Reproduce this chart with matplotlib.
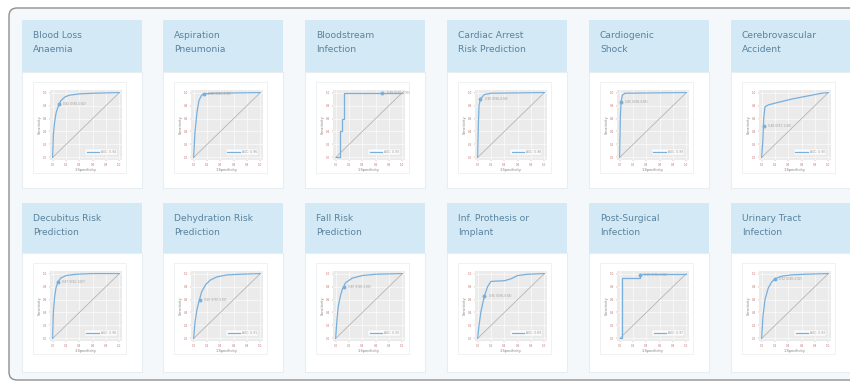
import matplotlib
matplotlib.use("Agg")
import matplotlib.pyplot as plt
from matplotlib.patches import Rectangle, FancyBboxPatch

# card titles (two lines each)
titles = [
    "Blood Loss\nAnaemia", "Aspiration\nPneumonia", "Bloodstream\nInfection",
    "Cardiac Arrest\nRisk Prediction", "Cardiogenic\nShock", "Cerebrovascular\nAccident",
    "Decubitus Risk\nPrediction", "Dehydration Risk\nPrediction", "Fall Risk\nPrediction",
    "Inf. Prothesis or\nImplant", "Post-Surgical\nInfection", "Urinary Tract\nInfection",
]

# ROC curves (1-specificity, sensitivity)
fpr = [
    [0, 0.01, 0.03, 0.05, 0.08, 0.12, 0.18, 0.25, 0.4, 0.6, 1],
    [0, 0.02, 0.05, 0.08, 0.12, 0.15, 0.3, 1],
    [0, 0.07, 0.07, 0.1, 0.1, 0.13, 0.13, 1],
    [0, 0.01, 0.02, 0.04, 0.1, 0.2, 1],
    [0, 0.01, 0.02, 0.04, 0.08, 1],
    [0, 0.02, 0.03, 0.05, 0.1, 0.25, 0.45, 0.7, 0.9, 1],
    [0, 0.01, 0.03, 0.05, 0.08, 0.12, 0.2, 0.35, 0.6, 1],
    [0, 0.02, 0.05, 0.08, 0.12, 0.18, 0.25, 0.35, 0.5, 0.7, 1],
    [0, 0.02, 0.04, 0.07, 0.1, 0.15, 0.25, 0.4, 0.6, 1],
    [0, 0.02, 0.05, 0.1, 0.15, 0.2, 0.4, 0.5, 0.6, 0.75, 1],
    [0, 0.03, 0.03, 0.3, 0.3, 1],
    [0, 0.02, 0.05, 0.1, 0.15, 0.2, 0.3, 0.45, 0.65, 1],
]
tpr = [
    [0, 0.35, 0.55, 0.68, 0.78, 0.87, 0.93, 0.96, 0.98, 0.99, 1],
    [0, 0.4, 0.7, 0.88, 0.96, 0.98, 0.99, 1],
    [0, 0, 0.4, 0.4, 0.6, 0.6, 1, 1],
    [0, 0.5, 0.8, 0.9, 0.97, 0.99, 1],
    [0, 0.6, 0.85, 0.96, 0.99, 1],
    [0, 0.3, 0.6, 0.78, 0.81, 0.85, 0.9, 0.95, 0.99, 1],
    [0, 0.4, 0.65, 0.78, 0.87, 0.93, 0.97, 0.99, 1, 1],
    [0, 0.25, 0.45, 0.57, 0.72, 0.83, 0.9, 0.95, 0.98, 0.99, 1],
    [0, 0.3, 0.5, 0.65, 0.76, 0.86, 0.93, 0.97, 0.99, 1],
    [0, 0.2, 0.42, 0.65, 0.8, 0.88, 0.89, 0.92, 0.97, 0.99, 1],
    [0, 0, 0.93, 0.93, 1, 1],
    [0, 0.35, 0.6, 0.78, 0.87, 0.92, 0.96, 0.98, 0.99, 1],
]
# best cut-off point marked on each curve
cut_x = [0.1, 0.15, 0.7, 0.04, 0.02, 0.03, 0.08, 0.1, 0.12, 0.1, 0.3, 0.2]
cut_y = [0.82, 0.98, 0.99, 0.9, 0.85, 0.48, 0.87, 0.6, 0.8, 0.65, 0.98, 0.92]
auc = ["0.94", "0.96", "0.93", "0.98", "0.99", "0.90",
       "0.96", "0.91", "0.93", "0.89", "0.97", "0.93"]

W, H = 850, 382
fig = plt.figure(figsize=(W / 100, H / 100), dpi=100)
bg = fig.add_axes([0, 0, 1, 1])
bg.set_xlim(0, W)
bg.set_ylim(H, 0)
bg.axis("off")

# outer container
bg.add_patch(FancyBboxPatch((9, 8), 900, 372, boxstyle="round,pad=0,rounding_size=8",
                            fc="#f4f8fa", ec="#8f8f8f", lw=1))

col_x = [22, 163, 305, 447, 589, 731]
row_y = [20, 203]
card_w = 120
head_h = [52, 50]
body_h = [116, 119]

for i, t in enumerate(titles):
    r, c = divmod(i, 6)
    x0, y0 = col_x[c], row_y[r]
    hb = y0 + head_h[r]
    bg.add_patch(Rectangle((x0, hb), card_w, body_h[r], fc="white", ec="#e6eef2", lw=0.8))
    bg.add_patch(Rectangle((x0, y0), card_w, head_h[r], fc="#d3eaf6", ec="none"))
    bg.text(x0 + 11, y0 + 11, t, fontsize=6.6, color="#5a829d", va="top", ha="left",
            linespacing=1.75)
    # plot image frame
    bg.add_patch(Rectangle((x0 + 11, hb + 10), 93, 91, fc="white", ec="#eceff1", lw=0.6))

    ax = fig.add_axes([(x0 + 28) / W, 1 - (hb + 88) / H, 72 / W, 70 / H])
    ax.set_facecolor("#ebebeb")
    ax.grid(color="white", lw=0.4)
    ax.set_axisbelow(True)
    for s in ax.spines.values():
        s.set_visible(False)
    ax.plot([0, 1], [0, 1], color="#b5b5b5", lw=0.6)
    ax.plot(fpr[i], tpr[i], color="#79afdb", lw=0.9, label="AUC: " + auc[i])
    ax.plot(cut_x[i], cut_y[i], "o", ms=1.8, color="#79afdb")
    ax.annotate("%.2f (%.2f, %.2f)" % (cut_y[i], 1 - cut_x[i], cut_y[i]),
                (cut_x[i], cut_y[i]), xytext=(3, 0), textcoords="offset points",
                fontsize=2, color="#999999", va="center")
    ax.set_xlim(-0.04, 1.04)
    ax.set_ylim(-0.04, 1.04)
    ax.set_xticks([0, 0.2, 0.4, 0.6, 0.8, 1.0])
    ax.set_yticks([0, 0.2, 0.4, 0.6, 0.8, 1.0])
    ax.tick_params(labelsize=2, colors="#c07070", length=1, width=0.3, pad=1)
    ax.set_xlabel("1-Specificity", fontsize=2.5, color="#7a7a7a", labelpad=1)
    ax.set_ylabel("Sensitivity", fontsize=2.5, color="#7a7a7a", labelpad=1)
    leg = ax.legend(loc="lower right", fontsize=2.2, frameon=True, handlelength=4,
                    borderpad=0.4, borderaxespad=1.5)
    leg.get_frame().set_linewidth(0.2)
    leg.get_frame().set_edgecolor("#dddddd")
    for txt in leg.get_texts():
        txt.set_color("#999999")

fig.savefig("out.png", dpi=100, facecolor="white")
